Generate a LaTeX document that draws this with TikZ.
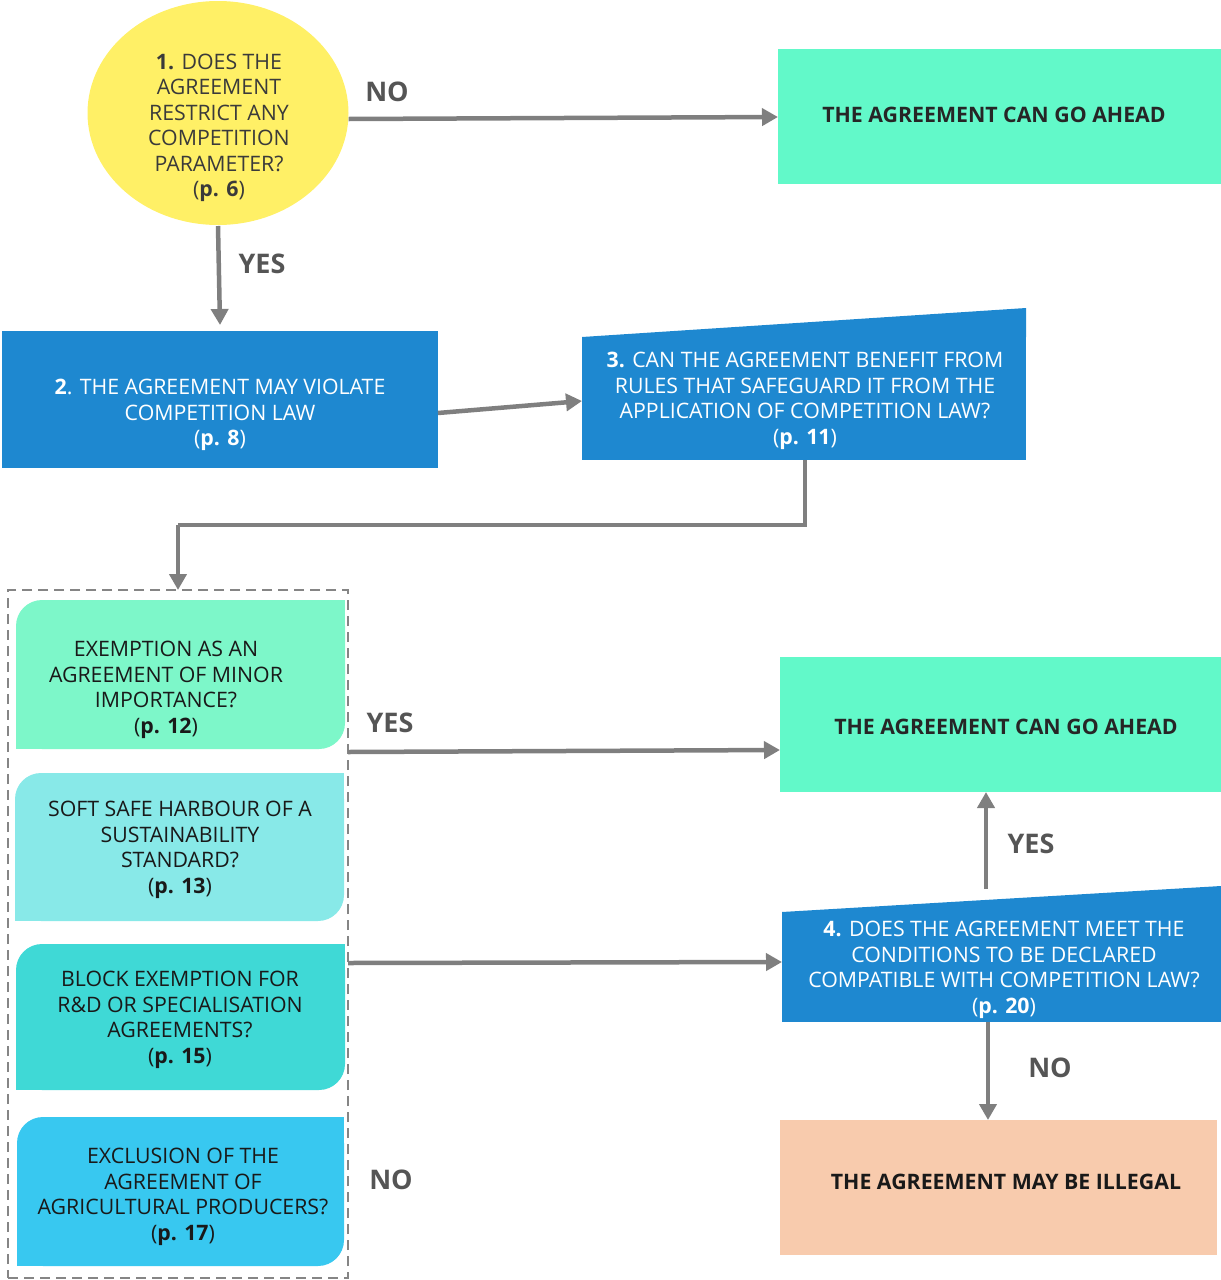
\documentclass[tikz,border=0pt]{standalone}
\usepackage{fontspec}
\setmainfont{Open Sans}
\usetikzlibrary{shapes.geometric,arrows.meta}
\definecolor{mint}{HTML}{62F9C9}
\definecolor{qblue}{HTML}{1E88D0}
\definecolor{qyellow}{HTML}{FFF066}
\definecolor{peach}{HTML}{F8CBAD}
\definecolor{arrowgrey}{HTML}{7F7F7F}
\definecolor{labgrey}{HTML}{555555}
\definecolor{ctxt}{HTML}{3A3A3A}
\definecolor{cA}{HTML}{7DF7C9}
\definecolor{cB}{HTML}{88E9E8}
\definecolor{cC}{HTML}{3FD9D6}
\definecolor{cD}{HTML}{38C8F0}
\tikzset{
  txt/.style={font=\fontsize{21.3}{25.5}\selectfont, align=center, inner sep=0pt},
  whitetxt/.style={txt, text=white},
  boldtxt/.style={txt, font=\fontsize{21.3}{25.5}\selectfont\bfseries},
  blk/.style={rectangle, inner sep=0pt, outer sep=0pt},
  conn/.style={draw=arrowgrey, line width=4.5pt, -{Triangle[length=16pt,width=17pt]}},
  plain/.style={draw=arrowgrey, line width=4.5pt},
  lab/.style={font=\fontsize{27}{30}\selectfont\bfseries, text=labgrey, inner sep=0pt},
  rbox/.style={blk, rounded corners=26pt},
}
\begin{document}
\begin{tikzpicture}[x=1pt,y=-1pt]
\useasboundingbox (0,0) rectangle (1221,1280);
% question 1
\node[ellipse, fill=qyellow, minimum width=261pt, minimum height=224pt, inner sep=0pt] (q1) at (218,113) {};
\node[txt, text=ctxt] (q1t) at (219,128) {\textbf{1.} DOES THE\\AGREEMENT\\RESTRICT ANY\\COMPETITION\\PARAMETER?\\(\textbf{p. 6})};
% go ahead top
\node[blk, fill=mint, minimum width=443pt, minimum height=135pt] (ga1) at (999.5,116.5) {};
\node[boldtxt, text=black!85] (ga1t) at (994,115) {THE AGREEMENT CAN GO AHEAD};
% box 2
\node[blk, fill=qblue, minimum width=436pt, minimum height=137pt] (q2) at (220,399.5) {};
\node[whitetxt] (q2t) at (220,415) {\textbf{2}. THE AGREEMENT MAY VIOLATE\\COMPETITION LAW\\(\textbf{p. 8})};
% box 3 (trapezoid)
\node[blk, fill=qblue, minimum width=444pt, minimum height=123pt] (q3) at (804,398.5) {};
\fill[qblue] (q3.north west) -- (q3.north east |- 0,308) -- (q3.north east) -- cycle;
\node[whitetxt] (q3t) at (805,401) {\textbf{3.} CAN THE AGREEMENT BENEFIT FROM\\RULES THAT SAFEGUARD IT FROM THE\\APPLICATION OF COMPETITION LAW?\\(\textbf{p. 11})};
% group of exemptions
\node[blk, draw=arrowgrey!95, line width=2.8pt, dash pattern=on 10pt off 6pt, minimum width=340pt, minimum height=688pt] (grp) at (178,934) {};
\node[rbox, fill=cA, minimum width=329pt, minimum height=149pt] (e1) at (180.5,674.5) {};
\fill[cA] (e1.north east) rectangle ++(-30,30);
\fill[cA] (e1.south west) rectangle ++(30,-30);
\node[txt, text=black!90] (e1t) at (166,690) {EXEMPTION AS AN\\AGREEMENT OF MINOR\\IMPORTANCE?\\(\textbf{p. 12})};
\node[rbox, fill=cB, minimum width=329pt, minimum height=148pt] (e2) at (179.5,847) {};
\fill[cB] (e2.north east) rectangle ++(-30,30);
\fill[cB] (e2.south west) rectangle ++(30,-30);
\node[txt, text=black!90] (e2t) at (180,850) {SOFT SAFE HARBOUR OF A\\SUSTAINABILITY\\STANDARD?\\(\textbf{p. 13})};
\node[rbox, fill=cC, minimum width=329pt, minimum height=146pt] (e3) at (180.5,1017) {};
\fill[cC] (e3.north east) rectangle ++(-30,30);
\fill[cC] (e3.south west) rectangle ++(30,-30);
\node[txt, text=black!90] (e3t) at (180,1020) {BLOCK EXEMPTION FOR\\R\&D OR SPECIALISATION\\AGREEMENTS?\\(\textbf{p. 15})};
\node[rbox, fill=cD, minimum width=327pt, minimum height=149pt] (e4) at (180.5,1191.5) {};
\fill[cD] (e4.north east) rectangle ++(-30,30);
\fill[cD] (e4.south west) rectangle ++(30,-30);
\node[txt, text=black!90] (e4t) at (183,1197) {EXCLUSION OF THE\\AGREEMENT OF\\AGRICULTURAL PRODUCERS?\\(\textbf{p. 17})};
% go ahead middle
\node[blk, fill=mint, minimum width=441pt, minimum height=135pt] (ga2) at (1000.5,724.5) {};
\node[boldtxt, text=black!85] (ga2t) at (1006,727) {THE AGREEMENT CAN GO AHEAD};
% box 4 (trapezoid)
\node[blk, fill=qblue, minimum width=439pt, minimum height=110pt] (q4) at (1001.5,967) {};
\fill[qblue] (q4.north west) -- (q4.north east |- 0,886) -- (q4.north east) -- cycle;
\node[whitetxt] (q4t) at (1004,970) {\textbf{4.} DOES THE AGREEMENT MEET THE\\CONDITIONS TO BE DECLARED\\COMPATIBLE WITH COMPETITION LAW?\\(\textbf{p. 20})};
% illegal
\node[blk, fill=peach, minimum width=437pt, minimum height=135pt] (il) at (998.5,1187.5) {};
\node[boldtxt, text=black!90] (ilt) at (1006,1182) {THE AGREEMENT MAY BE ILLEGAL};
% connectors
\draw[conn] (q1.east |- 0,119) -- (ga1.west |- 0,117);
\node[lab] (lno1) at (387,92) {NO};
\draw[conn] (q1.south |- 0,226) -- (220,325);
\node[lab] (lyes1) at (262,264) {YES};
\draw[conn] (q2.east |- 0,413) -- (q3.west |- 0,401);
\coordinate (c1) at (805,525);
\coordinate (c2) at (178,525);
\draw[plain] (q3.south -| c1) -- (c1) -- (c2);
\draw[conn] (c2) -- (grp.north);
\draw[conn] (grp.east |- 0,752) -- (ga2.west |- 0,750);
\node[lab] (lyes2) at (390,723) {YES};
\draw[conn] (grp.east |- 0,963) -- (q4.west |- 0,962);
\node[lab] (lno2) at (391,1180) {NO};
\draw[conn] (986,889) -- (ga2.south -| 986,0);
\node[lab] (lyes3) at (1031,844) {YES};
\draw[conn] (q4.south -| 988,0) -- (il.north -| 988,0);
\node[lab] (lno3) at (1050,1068) {NO};
\end{tikzpicture}
\end{document}
